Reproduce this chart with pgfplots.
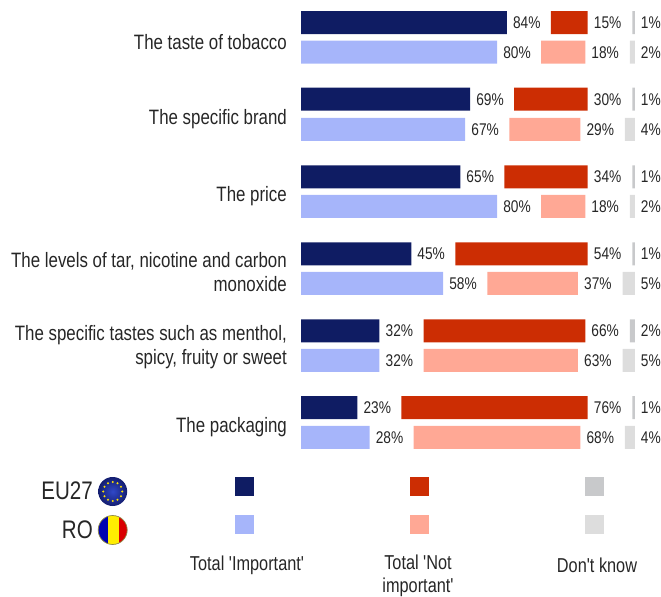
\documentclass[border=0pt]{standalone}
\usepackage{fontspec}
\setmainfont[FakeStretch=0.81,Ligatures=TeXOff]{Liberation Sans}
\usepackage{pgfplots}
\usepackage{pgfplotstable}
\pgfplotsset{compat=1.18}
\usetikzlibrary{shadings}

\definecolor{navybar}{HTML}{0F1C63}
\definecolor{lightblue}{HTML}{A6B5FA}
\definecolor{redbar}{HTML}{CC2D03}
\definecolor{salmon}{HTML}{FFA895}
\definecolor{graybar}{HTML}{C8C9CB}
\definecolor{lightgray}{HTML}{DDDDDD}
\definecolor{txt}{HTML}{262626}
\definecolor{eumid}{HTML}{3048C8}
\definecolor{euedge}{HTML}{141E70}

% y = row position in the picture, then the three shares
\pgfplotstableread{
y     imp nimp dk
22.7  84  15   1
99.2  69  30   1
176.8 65  34   1
253.8 45  54   1
330.8 32  66   2
407.7 23  76   1
}\eutab
\pgfplotstableread{
y     imp nimp dk
52.2  80  18   2
129.3 67  29   4
206.3 80  18   2
283.3 58  37   5
360.3 32  63   5
437.3 28  68   4
}\rotab

\tikzset{lab/.style={font=\fontsize{20.2}{23}\selectfont, text=txt, inner sep=0pt}}
\pgfplotsset{
  geom/.style={
    at={(301bp,0)}, anchor=north west,
    scale only axis, width=360bp, height=597bp,
    xmin=0, xmax=146.9, ymin=0, ymax=597,
    y dir=reverse, clip=false,
  },
  barbase/.style={geom, xbar stacked, bar width=23bp},
  val/.style={
    draw=none, mark=none,
    nodes near coords={\pgfmathprintnumber[assume math mode=true]{\pgfplotspointmeta}\%},
    nodes near coords style={anchor=west, inner sep=0pt, xshift=6bp,
      font=\fontsize{17}{19}\selectfont, text=txt},
  },
}

\newcommand{\bargroup}[4]{%
  \addplot[draw=none, fill=#2] table[x=imp, y=y] {#1};
  \addplot[draw=none, fill=none] table[x expr=18, y=y] {#1};
  \addplot[draw=none, fill=#3] table[x=nimp, y=y] {#1};
  \addplot[draw=none, fill=none] table[x expr=18.2, y=y] {#1};
  \addplot[draw=none, fill=#4] table[x=dk, y=y] {#1};
}
% the labels go at the segment ends
\newcommand{\labgroup}[1]{%
  \addplot[val, point meta=\thisrow{imp}] table[x=imp, y=y] {#1};
  \addplot[val, point meta=\thisrow{nimp}] table[x expr=\thisrow{imp}+18+\thisrow{nimp}, y=y] {#1};
  \addplot[val, point meta=\thisrow{dk}] table[x expr=\thisrow{imp}+36.2+\thisrow{nimp}+\thisrow{dk}, y=y] {#1};
}

\begin{document}
\begin{tikzpicture}
  \useasboundingbox (0,0) rectangle (661bp,-597bp);

  \begin{axis}[
    barbase,
    hide x axis,
    axis y line*=left,
    y axis line style={draw=none},
    tick style={draw=none},
    ytick={42.5,119,196,272.5,347,427},
    yticklabels={
      {The taste of tobacco},
      {The specific brand},
      {The price},
      {The levels of tar, nicotine and carbon\\monoxide},
      {The specific tastes such as menthol,\\spicy, fruity or sweet},
      {The packaging}},
    yticklabel style={align=right, font=\fontsize{20.9}{24}\selectfont, text=txt,
      inner sep=0pt, xshift=-14bp},
  ]
    \bargroup{\eutab}{navybar}{redbar}{graybar}
  \end{axis}

  \begin{axis}[barbase, hide axis]
    \bargroup{\rotab}{lightblue}{salmon}{lightgray}
  \end{axis}

  \begin{axis}[geom, hide axis]
    \labgroup{\eutab}
    \labgroup{\rotab}
  \end{axis}

  % legend, in picture pixels
  \begin{axis}[
    at={(0,0)}, anchor=north west,
    scale only axis, width=661bp, height=597bp,
    xmin=0, xmax=661, ymin=0, ymax=597, y dir=reverse,
    hide axis, clip=false,
  ]
    \addplot[only marks, mark=square*, mark size=9bp, color=navybar] coordinates {(244,486)};
    \addplot[only marks, mark=square*, mark size=9bp, color=redbar] coordinates {(419,486)};
    \addplot[only marks, mark=square*, mark size=9bp, color=graybar] coordinates {(594,486)};
    \addplot[only marks, mark=square*, mark size=9bp, color=lightblue] coordinates {(244,524)};
    \addplot[only marks, mark=square*, mark size=9bp, color=salmon] coordinates {(419,524)};
    \addplot[only marks, mark=square*, mark size=9bp, color=lightgray] coordinates {(594,524)};
    \node[lab, anchor=east, font=\fontsize{25.5}{26}\selectfont] at (axis cs:93,491) {EU27};
    \node[lab, anchor=east, font=\fontsize{25.5}{26}\selectfont] at (axis cs:93,530) {RO};
    \node[lab, anchor=center] at (axis cs:247,565) {Total 'Important'};
    \node[lab, anchor=north, align=center] at (axis cs:418,555) {Total 'Not\\important'};
    \node[lab, anchor=center] at (axis cs:597,565) {Don't know};
  \end{axis}

  % flags
  \begin{scope}[x=1bp, y=-1bp]
    \shade[inner color=eumid, outer color=euedge] (112.7,491.5) circle (14.5);
    \foreach \a in {0,30,...,330}
      \fill[yellow!85!orange] (112.7,491.5) ++(\a:9.5) circle (1.1);
    \begin{scope}
      \clip (112.7,530) circle (14.5);
      \fill[blue!70!black] (98,515) rectangle (107.5,545);
      \fill[yellow!95!orange] (107.5,515) rectangle (119,545);
      \fill[red!85!black] (119,515) rectangle (128,545);
    \end{scope}
    \draw[olive!50!gray, line width=0.7bp] (112.7,530) circle (14.5);
  \end{scope}
\end{tikzpicture}
\end{document}
